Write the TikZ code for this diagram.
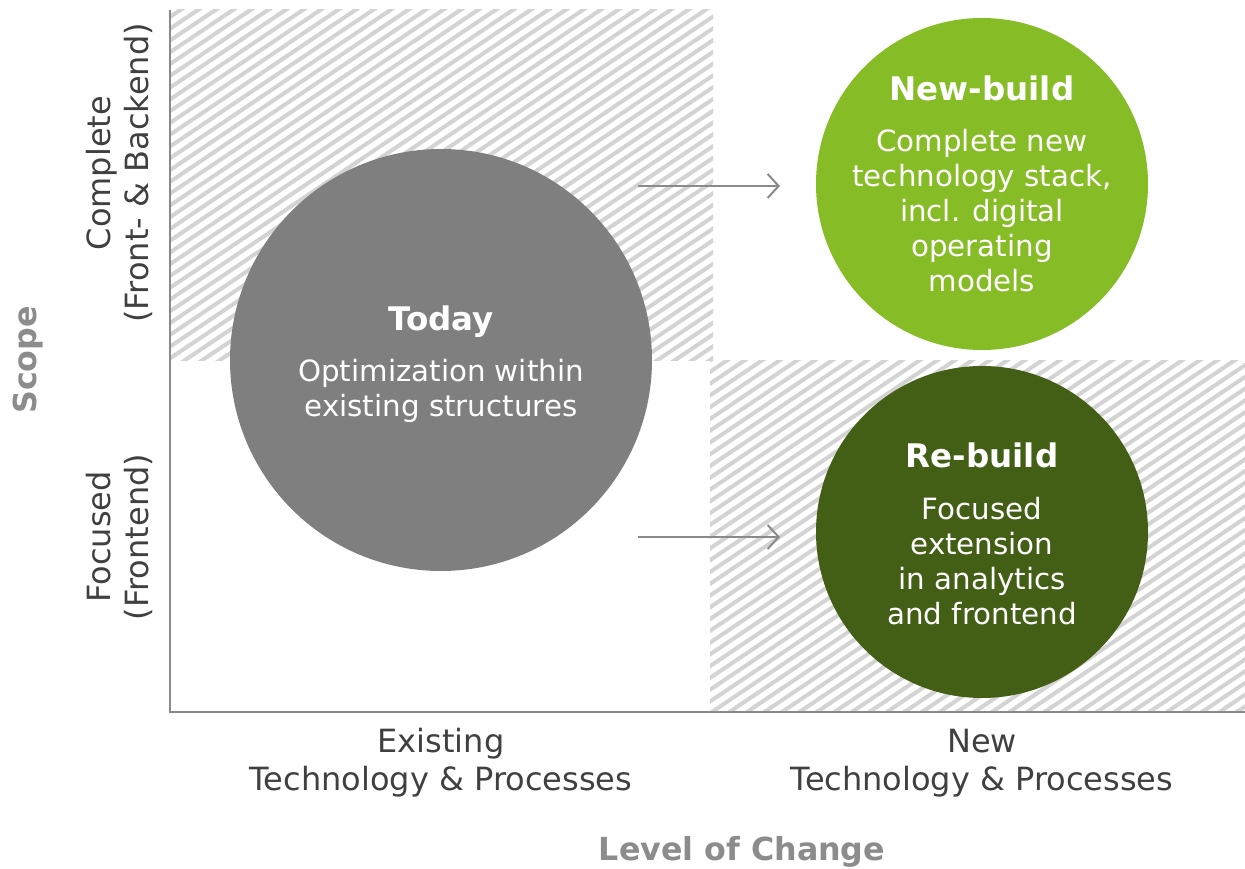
\documentclass[tikz,border=0pt]{standalone}
\usepackage{fontspec}
\setmainfont{DejaVu Sans}
\definecolor{hatch}{HTML}{D3D3D3}
\definecolor{axisgray}{HTML}{8A8A8A}
\definecolor{todaygray}{HTML}{7F7F7F}
\definecolor{newgreen}{HTML}{86BC25}
\definecolor{regreen}{HTML}{435F16}
\definecolor{labelgray}{HTML}{404040}
\definecolor{titlegray}{HTML}{8C8C8C}
\usetikzlibrary{arrows.meta}
\tikzset{
  bubble/.style={circle, inner sep=0pt, text=white, align=center, font=\fontsize{29.3}{35}\selectfont},
  bubbletitle/.style={bubble, font=\fontsize{32.5}{35}\selectfont\bfseries},
  axlabel/.style={text=labelgray, align=center, font=\fontsize{32}{38}\selectfont},
  axtitle/.style={text=titlegray, font=\fontsize{31.7}{34}\selectfont\bfseries},
  stripe/.style={draw=hatch, line width=4pt},
  flow/.style={draw=axisgray, line width=2pt, -{Straight Barb[length=11pt,width=24pt,line width=2pt]}},
}
\begin{document}
\begin{tikzpicture}[x=1pt,y=-1pt]
\useasboundingbox (0,0) rectangle (1245,869);
\fill[white] (0,0) rectangle (1245,869);
% hatched regions
\begin{scope}
\clip (171,10) rectangle (713,360);
\foreach \i in {-70,...,45} \draw[stripe] (\i*17.5,720) -- ++(1100,-740);
\end{scope}
\begin{scope}
\clip (710,360) rectangle (1245,711);
\foreach \i in {-40,...,75} \draw[stripe] (\i*17.5,720) -- ++(1100,-740);
\end{scope}
% axes
\coordinate (top) at (170,10);
\coordinate (origin) at (170,712);
\coordinate (right) at (1245,712);
\draw[axisgray, line width=2pt] (top) -- (origin) -- (right);
% bubbles
\node[bubble, fill=todaygray, minimum size=422pt] (today) at (441,360) {};
\node[bubble, fill=newgreen, minimum size=332pt] (newb) at (982,184) {};
\node[bubble, fill=regreen, minimum size=332pt] (reb) at (982,532) {};
\node[bubbletitle] (todayT) at (441,322) {Today};
\node[bubble] (todayD) at (441,391) {Optimization within\\existing structures};
\node[bubbletitle] (newT) at (982,88) {New-build};
\node[bubble] (newD) at (982,211) {Complete new\\technology stack,\\incl. digital\\operating\\models};
\node[bubbletitle] (reT) at (982,455) {Re-build};
\node[bubble] (reD) at (982,561) {Focused\\extension\\in analytics\\and frontend};
% arrows
\coordinate (a1) at (638,186);
\coordinate (b1) at (780,186);
\coordinate (a2) at (638,537);
\coordinate (b2) at (780,537);
\draw[flow] (a1) -- (b1);
\draw[flow] (a2) -- (b2);
% labels
\node[axlabel] (xl1) at (441,763) {Existing\\Technology \& Processes};
\node[axlabel] (xl2) at (982,763) {New\\Technology \& Processes};
\node[axtitle] (xt) at (742,852) {Level of Change};
\node[axlabel, rotate=90] (yl1) at (119,173) {Complete\\(Front- \& Backend)};
\node[axlabel, rotate=90] (yl2) at (119,537) {Focused\\(Frontend)};
\node[axtitle, rotate=90] (yt) at (28,360) {Scope};
\end{tikzpicture}
\end{document}
